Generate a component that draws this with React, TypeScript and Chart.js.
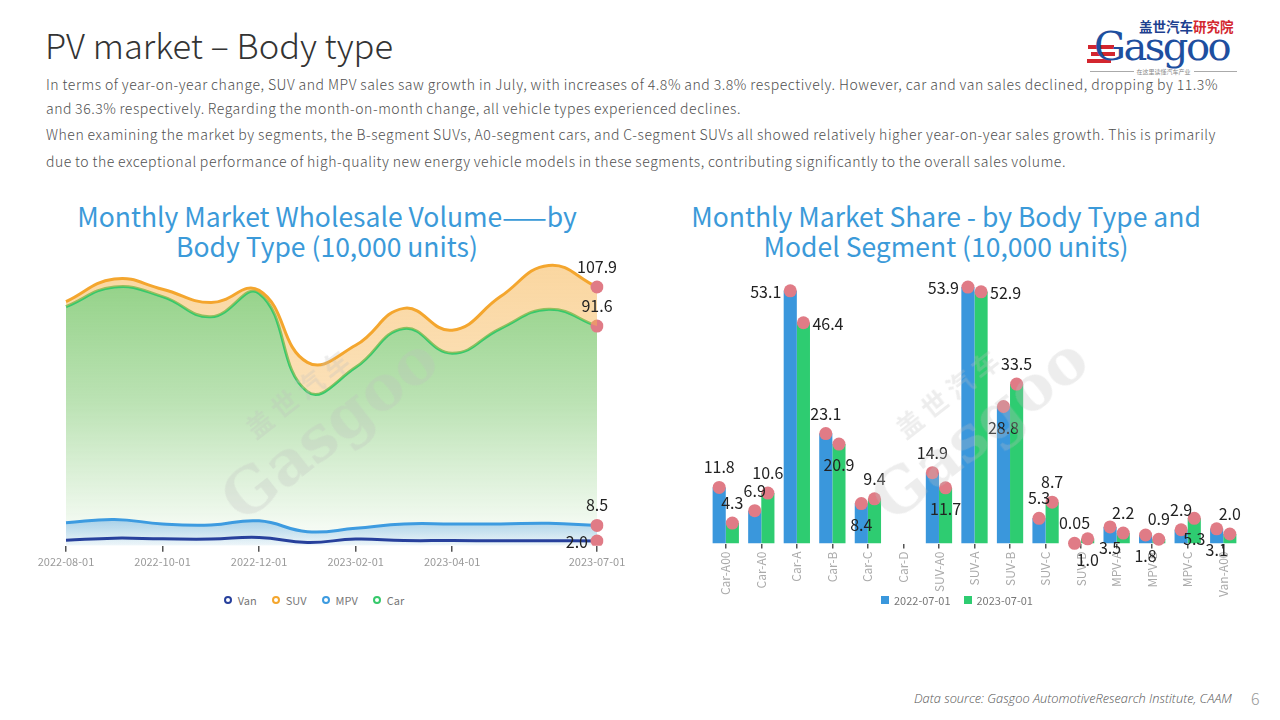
import React, { useEffect, useRef } from 'react';
import { Chart, registerables } from 'chart.js';

Chart.register(...registerables);

// ---------- DATA ----------
const MONTHS = [
  '2022-08-01', '2022-09-01', '2022-10-01', '2022-11-01', '2022-12-01', '2023-01-01',
  '2023-02-01', '2023-03-01', '2023-04-01', '2023-05-01', '2023-06-01', '2023-07-01',
];
const SHOWN_MONTH_TICKS = [0, 2, 4, 6, 8, 11];
const VAN = [2.3, 3.2, 2.9, 2.8, 3.5, 1.4, 2.8, 2.2, 2.2, 2.1, 2.1, 2.0];
const SUV = [101.8, 111.2, 107.0, 101.4, 106.5, 76.5, 83.6, 99.0, 89.9, 103.9, 116.9, 107.9];
const MPV = [9.6, 11.0, 9.1, 8.7, 10.4, 5.9, 7.3, 9.1, 9.1, 9.1, 9.4, 8.5];
const CAR = [99.7, 107.9, 103.9, 95.5, 105.3, 64.3, 74.4, 90.6, 80.3, 90.6, 98.6, 91.6];

const SEGMENTS = [
  'Car-A00', 'Car-A0', 'Car-A', 'Car-B', 'Car-C', 'Car-D', 'SUV-A0', 'SUV-A',
  'SUV-B', 'SUV-C', 'SUV-D', 'MPV-A', 'MPV-B', 'MPV-C', 'Van-A00',
];
const SALES_2022 = [11.8, 6.9, 53.1, 23.1, 8.4, null, 14.9, 53.9, 28.8, 5.3, 0.05, 3.5, 1.8, 2.9, 3.1];
const SALES_2023 = [4.3, 10.6, 46.4, 20.9, 9.4, null, 11.7, 52.9, 33.5, 8.7, 1.0, 2.2, 0.9, 5.3, 2.0];
const BAR_SERIES = ['2022-07-01', '2023-07-01'];

// label placement (style, not data)
const LABEL_POS_2022 = ['above', 'above', 'left', 'above', 'below', '', 'above', 'left', 'below', 'above', 'above', 'below', 'below', 'above', 'below'];
const LABEL_POS_2023 = ['above', 'above', 'right', 'below', 'above', '', 'below', 'right', 'above', 'above', 'below', 'above', 'above', 'below', 'above'];
const END_LABEL_POS = ['left', 'above', 'above', 'above'];

// ---------- STYLE ----------
const FONT = '"Noto Sans CJK SC", "Noto Sans", sans-serif';
const C_VAN = '#27409c';
const C_SUV = '#f4a62e';
const C_MPV = '#3d9be0';
const C_CAR = '#36c96b';
const C_BLUE = '#3a97dc';
const C_GREEN = '#2ecc71';
const C_DOT = '#e07b86';
const C_TITLE = '#3b9ad9';

function fmt(v: number) {
  return Math.abs(v * 10 - Math.round(v * 10)) < 1e-9 ? v.toFixed(1) : String(v);
}

function drawLabel(ctx: CanvasRenderingContext2D, text: string, x: number, y: number, pos: string) {
  ctx.save();
  ctx.fillStyle = '#222';
  ctx.font = `16px ${FONT}`;
  ctx.textBaseline = 'middle';
  if (pos === 'above') {
    ctx.textAlign = 'center';
    ctx.fillText(text, x, y - 20);
  } else if (pos === 'below') {
    ctx.textAlign = 'center';
    ctx.fillText(text, x, y + 21);
  } else if (pos === 'left') {
    ctx.textAlign = 'right';
    ctx.fillText(text, x - 9, y + 1);
  } else if (pos === 'right') {
    ctx.textAlign = 'left';
    ctx.fillText(text, x + 9, y + 1);
  }
  ctx.restore();
}

const endLabelPlugin = {
  id: 'endLabels',
  afterDatasetsDraw(chart: any) {
    const ctx = chart.ctx;
    chart.data.datasets.forEach((ds: any, i: number) => {
      const meta = chart.getDatasetMeta(i);
      const last = meta.data.length - 1;
      const el = meta.data[last];
      if (!el) return;
      drawLabel(ctx, fmt(ds.data[last]), el.x, el.y, END_LABEL_POS[i]);
    });
  },
};

const barDotPlugin = {
  id: 'barDots',
  afterDatasetsDraw(chart: any) {
    const ctx = chart.ctx;
    const positions = [LABEL_POS_2022, LABEL_POS_2023];
    chart.data.datasets.forEach((ds: any, i: number) => {
      const meta = chart.getDatasetMeta(i);
      meta.data.forEach((el: any, j: number) => {
        const v = ds.data[j];
        if (v === null || v === undefined) return;
        ctx.save();
        ctx.beginPath();
        ctx.fillStyle = C_DOT;
        ctx.arc(el.x, el.y, 6.5, 0, Math.PI * 2);
        ctx.fill();
        ctx.restore();
      });
    });
    chart.data.datasets.forEach((ds: any, i: number) => {
      const meta = chart.getDatasetMeta(i);
      meta.data.forEach((el: any, j: number) => {
        const v = ds.data[j];
        if (v === null || v === undefined) return;
        drawLabel(ctx, fmt(v), el.x, el.y, positions[i][j]);
      });
    });
  },
};

function vGrad(chart: any, top: number, bottom: number, stops: [number, string][]) {
  const g = chart.ctx.createLinearGradient(0, top, 0, bottom);
  stops.forEach(([o, c]) => g.addColorStop(o, c));
  return g;
}

function LineChart() {
  const ref = useRef<HTMLCanvasElement>(null);
  useEffect(() => {
    const last = MONTHS.length - 1;
    const pointRadius = (c: any) => (c.dataIndex === last ? 6.5 : 0);
    const common = {
      borderWidth: 3,
      tension: 0.45,
      pointRadius,
      pointHoverRadius: pointRadius,
      pointBackgroundColor: C_DOT,
      pointBorderWidth: 0,
    };
    const chart = new Chart(ref.current!, {
      type: 'line',
      data: {
        labels: MONTHS,
        datasets: [
          { label: 'Van', data: VAN, borderColor: C_VAN, fill: false, ...common },
          {
            label: 'SUV', data: SUV, borderColor: C_SUV, fill: 3, ...common,
            backgroundColor: (c: any) => {
              const a = c.chart.chartArea;
              if (!a) return 'transparent';
              return vGrad(c.chart, a.top, a.bottom, [[0, 'rgba(246,180,80,0.55)'], [1, 'rgba(246,180,80,0.25)']]);
            },
          },
          {
            label: 'MPV', data: MPV, borderColor: C_MPV, fill: 'origin', ...common,
            backgroundColor: (c: any) => {
              const a = c.chart.chartArea;
              if (!a) return 'transparent';
              const y = c.chart.scales.y;
              return vGrad(c.chart, y.getPixelForValue(11), a.bottom, [[0, 'rgba(80,160,225,0.45)'], [1, 'rgba(80,160,225,0.08)']]);
            },
          },
          {
            label: 'Car', data: CAR, borderColor: C_CAR, fill: 'origin', ...common,
            backgroundColor: (c: any) => {
              const a = c.chart.chartArea;
              if (!a) return 'transparent';
              return vGrad(c.chart, a.top, a.bottom, [[0, 'rgba(120,198,105,0.85)'], [0.5, 'rgba(120,198,105,0.5)'], [1, 'rgba(120,198,105,0.02)']]);
            },
          },
        ],
      },
      options: {
        animation: false,
        responsive: false,
        maintainAspectRatio: false,
        layout: { padding: { left: 36, right: 43, top: 8, bottom: 9 } },
        plugins: { legend: { display: false }, tooltip: { enabled: false } },
        events: [],
        scales: {
          x: {
            offset: false,
            border: { display: false },
            grid: {
              offset: false,
              drawOnChartArea: false,
              tickLength: 6,
              lineWidth: 1.5,
              color: (c: any) => (SHOWN_MONTH_TICKS.includes(c.index) ? '#555' : 'transparent'),
            },
            ticks: {
              autoSkip: false,
              maxRotation: 0,
              minRotation: 0,
              padding: 3,
              color: '#9a9a9a',
              font: { size: 11, family: FONT },
              callback: (_v: any, i: number) => (SHOWN_MONTH_TICKS.includes(i) ? MONTHS[i] : ''),
            },
          },
          y: { display: false, min: 0, max: 120 },
        },
      } as any,
      plugins: [endLabelPlugin],
    });
    return () => chart.destroy();
  }, []);
  return <canvas ref={ref} width={610} height={330} style={{ position: 'absolute', left: 30, top: 250 }} />;
}

function BarChart() {
  const ref = useRef<HTMLCanvasElement>(null);
  useEffect(() => {
    const chart = new Chart(ref.current!, {
      type: 'bar',
      data: {
        labels: SEGMENTS,
        datasets: [
          { label: BAR_SERIES[0], data: SALES_2022, backgroundColor: C_BLUE, borderWidth: 0 },
          { label: BAR_SERIES[1], data: SALES_2023, backgroundColor: C_GREEN, borderWidth: 0 },
        ],
      },
      options: {
        animation: false,
        responsive: false,
        maintainAspectRatio: false,
        layout: { padding: { left: 18, right: 19, top: 8, bottom: 10 } },
        plugins: { legend: { display: false }, tooltip: { enabled: false } },
        events: [],
        datasets: { bar: { categoryPercentage: 0.74, barPercentage: 1.0 } },
        scales: {
          x: {
            border: { display: false },
            grid: { offset: false, drawOnChartArea: false, tickLength: 5, lineWidth: 1.5, color: '#555' },
            ticks: {
              autoSkip: false,
              maxRotation: 90,
              minRotation: 90,
              padding: 3,
              color: '#aaaaaa',
              font: { size: 12, family: FONT },
            },
          },
          y: { display: false, min: 0, max: 60 },
        },
      } as any,
      plugins: [barDotPlugin],
    });
    return () => chart.destroy();
  }, []);
  return <canvas ref={ref} width={570} height={360} style={{ position: 'absolute', left: 690, top: 250 }} />;
}

function Watermark({ left, top }: { left: number; top: number }) {
  return (
    <div
      style={{
        position: 'absolute', left, top, width: 230, height: 110, pointerEvents: 'none',
        transform: 'rotate(-38deg)', transformOrigin: 'center', color: 'rgba(190,190,190,0.28)',
        fontFamily: FONT, zIndex: 2,
      }}
    >
      <div style={{ fontSize: 26, fontWeight: 700, marginLeft: 62, letterSpacing: 6, lineHeight: '30px' }}>盖世汽车</div>
      <div style={{ fontSize: 62, fontFamily: '"DejaVu Serif", serif', lineHeight: '66px', fontWeight: 700 }}>Gasgoo</div>
    </div>
  );
}

const PARA_LINES: [string, number, number][] = [
  ['In terms of year-on-year change, SUV and MPV sales saw growth in July, with increases of 4.8% and 3.8% respectively. However, car and van sales declined, dropping by 11.3%', 74, 1172],
  ['and 36.3% respectively. Regarding the month-on-month change, all vehicle types experienced declines.', 98, 695],
  ['When examining the market by segments, the B-segment SUVs, A0-segment cars, and C-segment SUVs all showed relatively higher year-on-year sales growth. This is primarily', 124, 1170],
  ['due to the exceptional performance of high-quality new energy vehicle models in these segments, contributing significantly to the overall sales volume.', 151, 1020],
];

export default function App() {
  const legendLeft = [
    ['Van', C_VAN], ['SUV', C_SUV], ['MPV', C_MPV], ['Car', C_CAR],
  ];
  const legendRight = [[BAR_SERIES[0], C_BLUE], [BAR_SERIES[1], C_GREEN]];
  return (
    <div style={{ position: 'fixed', left: 0, top: 0, width: 1280, height: 720, background: '#fff', overflow: 'hidden', fontFamily: FONT }}>
      {/* heading */}
      <div style={{ position: 'absolute', left: 45, top: 21, fontSize: 34.5, fontWeight: 300, color: '#333', lineHeight: '46px', whiteSpace: 'nowrap' }}>
        PV market – Body type
      </div>
      {PARA_LINES.map(([t, top, w], i) => (
        <div key={i} style={{ position: 'absolute', left: 46, top, width: w, fontSize: 14, fontWeight: 300, color: '#505050', lineHeight: '20px', whiteSpace: 'nowrap', textAlign: 'justify', textAlignLast: 'justify', letterSpacing: 0.55, wordSpacing: -1.5 } as any}>
          {t}
        </div>
      ))}

      {/* logo */}
      <div style={{ position: 'absolute', left: 1139, top: 18, fontSize: 13.5, fontWeight: 700, whiteSpace: 'nowrap', lineHeight: '16px' }}>
        <span style={{ color: '#1d3f8f' }}>盖世汽车</span><span style={{ color: '#d3262e' }}>研究院</span>
      </div>
      <div style={{ position: 'absolute', left: 1088, top: 45, width: 26, height: 4, background: '#d3262e' }} />
      <div style={{ position: 'absolute', left: 1091, top: 52, width: 24, height: 4, background: '#d3262e' }} />
      <div style={{ position: 'absolute', left: 1087, top: 59, width: 24, height: 4, background: '#d3262e' }} />
      <div style={{ position: 'absolute', left: 1094, top: 24, fontSize: 40, fontFamily: '"DejaVu Serif", "Liberation Serif", serif', color: '#1e4f9f', lineHeight: '44px', whiteSpace: 'nowrap', letterSpacing: -2.5 }}>
        Gasgoo
      </div>
      <div style={{ position: 'absolute', left: 1090, top: 67, width: 147, display: 'flex', alignItems: 'center', fontSize: 6, color: '#888', whiteSpace: 'nowrap' }}>
        <div style={{ flex: 1, height: 1, background: '#aaa' }} />
        <span style={{ padding: '0 3px' }}>在这里读懂汽车产业</span>
        <div style={{ flex: 1, height: 1, background: '#aaa' }} />
      </div>

      {/* chart titles */}
      <div style={{ position: 'absolute', left: 27, top: 201, width: 600, textAlign: 'center', fontSize: 26.5, color: C_TITLE, lineHeight: '30px', whiteSpace: 'nowrap' }}>
        Monthly Market Wholesale Volume——by<br />Body Type (10,000 units)
      </div>
      <div style={{ position: 'absolute', left: 646, top: 201, width: 600, textAlign: 'center', fontSize: 26.5, color: C_TITLE, lineHeight: '30px', whiteSpace: 'nowrap' }}>
        Monthly Market Share - by Body Type and<br />Model Segment (10,000 units)
      </div>

      <LineChart />
      <BarChart />

      <Watermark left={200} top={375} />
      <Watermark left={850} top={375} />

      {/* legends */}
      <div style={{ position: 'absolute', left: 114, top: 592, width: 400, display: 'flex', justifyContent: 'center', gap: 15, fontSize: 11, color: '#777', lineHeight: '16px' }}>
        {legendLeft.map(([n, c]) => (
          <div key={n} style={{ display: 'flex', alignItems: 'center', gap: 6 }}>
            <span style={{ width: 4, height: 4, borderRadius: '50%', border: `2.5px solid ${c}`, display: 'inline-block' }} />
            <span>{n}</span>
          </div>
        ))}
      </div>
      <div style={{ position: 'absolute', left: 757, top: 592, width: 400, display: 'flex', justifyContent: 'center', gap: 13, fontSize: 11, color: '#777', lineHeight: '16px' }}>
        {legendRight.map(([n, c]) => (
          <div key={n} style={{ display: 'flex', alignItems: 'center', gap: 5 }}>
            <span style={{ width: 8, height: 8, background: c, display: 'inline-block' }} />
            <span>{n}</span>
          </div>
        ))}
      </div>

      {/* footer */}
      <div style={{ position: 'absolute', left: 914, top: 689, fontSize: 12.8, fontStyle: 'italic', color: '#555', whiteSpace: 'nowrap', lineHeight: '18px', fontFamily: '"Open Sans", "Noto Sans", sans-serif', fontWeight: 300 }}>
        Data source: Gasgoo AutomotiveResearch Institute, CAAM
      </div>
      <div style={{ position: 'absolute', left: 1251, top: 688, fontSize: 16, color: '#999', lineHeight: '20px', fontWeight: 300 }}>6</div>
    </div>
  );
}
